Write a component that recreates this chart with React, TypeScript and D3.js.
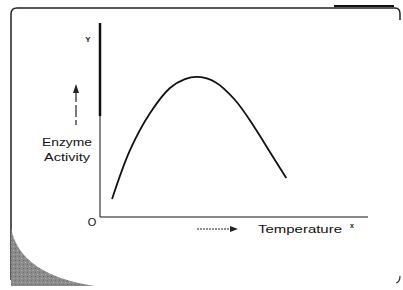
import React from "react";
import * as d3 from "d3";

// enzyme activity vs temperature (arbitrary units 0-100)
const temperature = [4.5, 11.2, 18.7, 26.1, 31.7, 36.6, 42.9, 50.4, 57.8, 63.4, 69.5];
const activity = [9.3, 34.5, 53.6, 66.5, 71.1, 72.2, 69.6, 60.3, 45.9, 33.5, 20.1];

const yLabelLines = ["Enzyme", "Activity"];
const yLabelWidths = [50, 46];
const xLabel = "Temperature";

const W = 403;
const H = 290;

const App: React.FC = () => {
  const x = d3.scaleLinear().domain([0, 100]).range([100, 368]);
  const y = d3.scaleLinear().domain([0, 100]).range([217, 23]);

  const pts = temperature.map((t, i) => [t, activity[i]] as [number, number]);
  const line = d3
    .line<[number, number]>()
    .x((d) => x(d[0]))
    .y((d) => y(d[1]))
    .curve(d3.curveCatmullRom);

  const font = "'Liberation Sans', Arial, sans-serif";

  // grey corner shading
  const shade = `M11,228 Q20,275 95,286 L11,286 Z`;

  return (
    <svg
      width={W}
      height={H}
      style={{ position: "absolute", left: 0, top: 0, background: "#fff" }}
    >
      <defs>
        <pattern id="grain" width="4" height="4" patternUnits="userSpaceOnUse">
          <rect width="4" height="4" fill="#8a8a8a" />
          <rect width="1" height="1" x="1" y="2" fill="#b5b5b5" />
          <rect width="1" height="1" x="3" y="0" fill="#6e6e6e" />
        </pattern>
      </defs>

      {/* frame */}
      <path
        d="M11,280 L11,14 Q11,8 17,8 L395,8 Q400,8 400,14 L400,20"
        fill="none"
        stroke="#222"
        strokeWidth={1.5}
      />
      <path d="M334,6 L394,6" stroke="#111" strokeWidth={2} />
      <path d="M400,276 Q400,282 396,283" fill="none" stroke="#333" strokeWidth={1.2} />
      <path d={shade} fill="url(#grain)" />

      {/* axes */}
      <line x1={x(0)} x2={x(0)} y1={y(100)} y2={y(0)} stroke="#111" strokeWidth={1} />
      <line x1={x(0)} x2={x(0)} y1={y(100)} y2={y(52)} stroke="#111" strokeWidth={2.5} />
      <line x1={x(0)} x2={x(100)} y1={y(0)} y2={y(0)} stroke="#111" strokeWidth={1.2} />

      {/* curve */}
      <path d={line(pts) ?? ""} fill="none" stroke="#111" strokeWidth={1.8} />

      {/* y axis label */}
      <text x={88} y={42} fontFamily={font} fontSize={8} fontWeight="bold" textAnchor="middle" fill="#222">
        Y
      </text>
      <line x1={76} x2={76} y1={90} y2={125} stroke="#222" strokeWidth={1.2} strokeDasharray="12,3" />
      <path d="M76,84 L73,93 L79,93 Z" fill="#222" />
      {yLabelLines.map((s, i) => (
        <text
          key={s}
          x={67}
          y={146 + i * 15}
          fontFamily={font}
          fontSize={11.5}
          textAnchor="middle"
          fill="#111"
          textLength={yLabelWidths[i]}
          lengthAdjust="spacingAndGlyphs"
        >
          {s}
        </text>
      ))}

      {/* origin */}
      <text x={92} y={226} fontFamily={font} fontSize={11} textAnchor="middle" fill="#111">
        O
      </text>

      {/* x axis label */}
      <line x1={197} x2={232} y1={229} y2={229} stroke="#222" strokeWidth={1.2} strokeDasharray="2,1" />
      <path d="M238,229 L230,226 L230,232 Z" fill="#222" />
      <text
        x={258}
        y={233}
        fontFamily={font}
        fontSize={11.5}
        fill="#111"
        textLength={84}
        lengthAdjust="spacingAndGlyphs"
      >
        {xLabel}
      </text>
      <text x={350} y={228} fontFamily={font} fontSize={7} fontWeight="bold" fill="#222">
        x
      </text>
    </svg>
  );
};

export default App;
